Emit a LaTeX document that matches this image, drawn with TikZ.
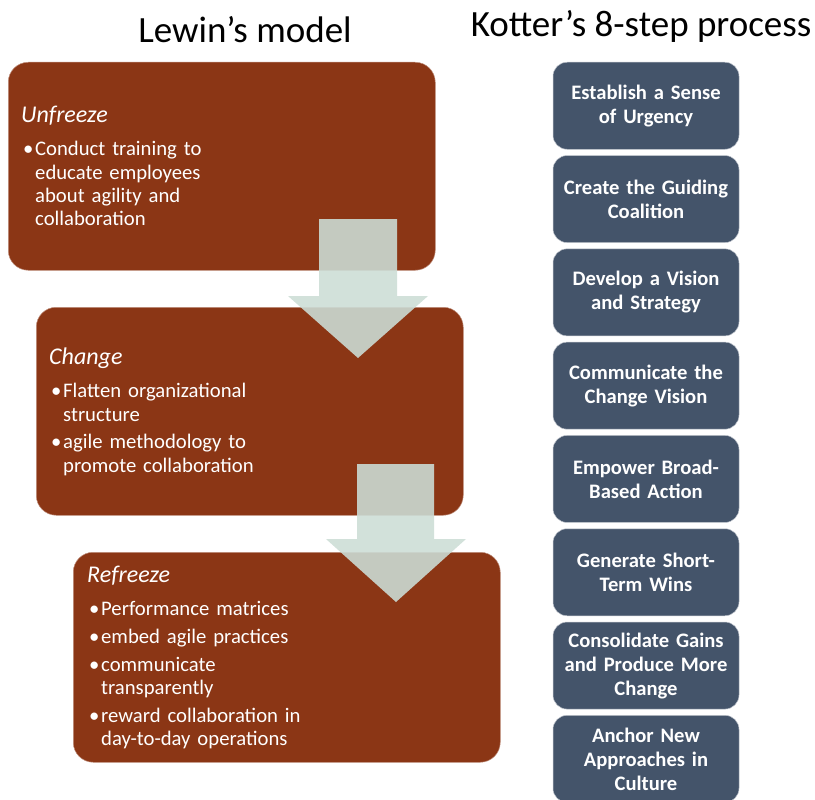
\documentclass[tikz,border=0pt]{standalone}
\usepackage{fontspec}
\setmainfont{Carlito}
\usepackage{tikz}
\usetikzlibrary{positioning}
\definecolor{rust}{RGB}{139,54,21}
\definecolor{slate}{RGB}{68,84,106}
\definecolor{sage}{rgb}{0.80,0.866,0.84}

% heading and bullet lines inside the phase boxes
\newcommand{\phasehead}[1]{{\fontsize{24}{27}\selectfont\itshape #1}\par\vspace{6pt}}
\newcommand{\bul}[1]{\par\vspace{4.5pt}\noindent
  \makebox[14pt][l]{\hspace{2pt}\textbullet}%
  \parbox[t]{280pt}{#1\par\xdef\bulpd{\the\prevdepth}}\par\prevdepth=\bulpd\relax}

\tikzset{
  phase/.style={draw=rust!55!white, line width=0.5pt, fill=rust, rounded corners=20pt,
    minimum width=427pt, minimum height=208pt, inner sep=0pt},
  phasetext/.style={text=white, anchor=base west, text width=300pt, align=left,
    inner sep=0pt, font=\fontsize{20.7}{23.3}\selectfont},
  stepbox/.style={draw=slate!35!white, line width=0.5pt, fill=slate, rounded corners=14pt,
    minimum width=186pt, minimum height=87pt, inner sep=0pt, text=white,
    text width=184pt, align=center, font=\bfseries\fontsize{20.6}{24}\selectfont},
  shiftarrow/.style={fill=sage, fill opacity=0.89},
  title/.style={inner sep=0pt, anchor=base, font=\fontsize{37}{40}\selectfont}
}

\begin{document}
\begin{tikzpicture}[x=1pt,y=-1pt]
\useasboundingbox (0,0) rectangle (815,800);
\clip (0,0) rectangle (815,800);

\node[title] (lewin) at (245,43) {Lewin’s model};
\node[title] (kotter) at (641,37) {Kotter’s 8-step process};

% Lewin: three phases
\node[phase, anchor=north west] (unfreeze) at (8,62) {};
\node[phase, anchor=north west] (change) at (36,307) {};
\node[phase, anchor=north west, minimum height=210pt] (refreeze) at (73,552) {};

\node[phasetext] (unfreezetext) at ([xshift=13pt,yshift=-60pt]unfreeze.north west) {%
\phasehead{Unfreeze}
\bul{Conduct training to\\educate employees\\about agility and\\collaboration}};
\node[phasetext] (changetext) at ([xshift=13pt,yshift=-57pt]change.north west) {%
\phasehead{Change}
\bul{Flatten organizational\\structure}
\bul{agile methodology to\\promote collaboration}};
\node[phasetext] (refreezetext) at ([xshift=14pt,yshift=-30pt]refreeze.north west) {%
\phasehead{Refreeze}
\bul{Performance matrices}
\bul{embed agile practices}
\bul{communicate\\transparently}
\bul{reward collaboration in\\day-to-day operations}};

% block arrows between the phases
\fill[shiftarrow] (319,219) -- (397,219) -- (397,296) -- (428,296) -- (358,358) -- (288,296) -- (319,296) -- cycle;
\fill[shiftarrow] (357,464) -- (434,464) -- (434,539) -- (466,539) -- (396,602) -- (326,539) -- (357,539) -- cycle;

% Kotter: eight steps
\node[stepbox, anchor=north] (s1) at (646,62) {Establish a Sense\\of Urgency};
\node[stepbox, below=5.8pt of s1] (s2) {Create the Guiding\\Coalition};
\node[stepbox, below=5.8pt of s2] (s3) {Develop a Vision\\and Strategy};
\node[stepbox, below=5.8pt of s3] (s4) {Communicate the\\Change Vision};
\node[stepbox, below=5.8pt of s4] (s5) {Empower Broad-\\Based Action};
\node[stepbox, below=5.8pt of s5] (s6) {Generate Short-\\Term Wins};
\node[stepbox, below=5.8pt of s6] (s7) {Consolidate Gains\\and Produce More\\Change};
\node[stepbox, below=5.8pt of s7] (s8) {Anchor New\\Approaches in\\Culture};
\end{tikzpicture}
\end{document}
